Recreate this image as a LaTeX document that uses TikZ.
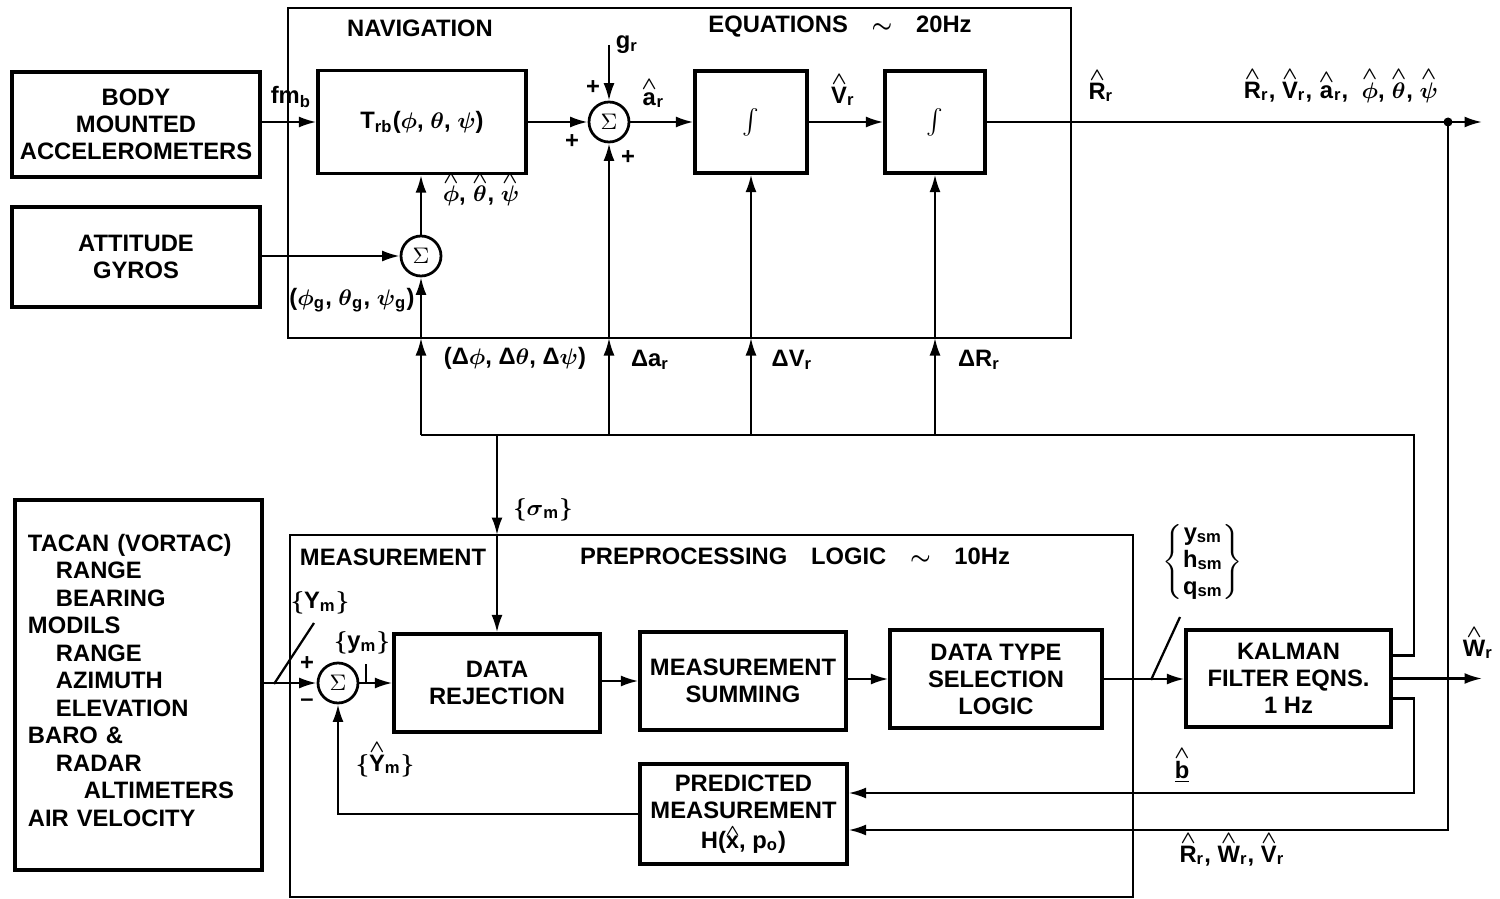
\documentclass[tikz,border=0pt]{standalone}
\usepackage{fontspec}
\setmainfont{Liberation Sans}
\usetikzlibrary{arrows.meta,calc}
\newcommand\hatx[1]{\leavevmode\vbox{\offinterlineskip\halign{\hfil##\hfil\cr{\fontsize{7}{7}\selectfont$\wedge$}\cr\noalign{\kern1pt}#1\cr}}}
\newcommand\hatsm[1]{\leavevmode\ooalign{#1\cr\hidewidth\raisebox{5.2pt}{\smash{\fontsize{6}{6}\selectfont$\wedge$}}\hidewidth\cr}}
\newcommand\sub[1]{\textsubscript{#1}}
\begin{document}
\begin{tikzpicture}[x=0.4pt,y=-0.4pt,
 every node/.style={font=\fontsize{9.5}{10.8}\selectfont\bfseries\boldmath},
 blk/.style={draw, line width=1.3pt, align=center, inner sep=0pt},
 sumc/.style={draw, circle, line width=1.1pt, minimum size=16pt, inner sep=0pt, font=\fontsize{9.5}{10.8}\selectfont},
 conn/.style={line width=0.9pt},
 arr/.style={conn, -{Latex[length=7pt,width=4.4pt]}},
 frame/.style={line width=1pt},
 lbl/.style={inner sep=0pt}
]
\useasboundingbox (0,0) rectangle (1500,899);
% ---------- navigation section ----------
\draw[frame] (288,8) rectangle (1071,338);
\node[blk, minimum width=99.2pt, minimum height=42pt] (bma) at (136,124.5) {BODY\\MOUNTED\\ACCELEROMETERS};
\node[blk, minimum width=99.2pt, minimum height=40pt] (gyro) at (136,257) {ATTITUDE\\GYROS};
\node[blk, minimum width=83.2pt, minimum height=41.2pt] (trb) at (422,122) {T\sub{rb}($\phi$, $\theta$, $\psi$)};
\node[sumc] (s1) at (609,122) {$\Sigma$};
\node[blk, minimum width=44.8pt, minimum height=40.8pt] (i1) at (751,122) {$\int$};
\node[blk, minimum width=40pt, minimum height=40.8pt] (i2) at (935,122) {$\int$};
\node[sumc] (s2) at (421,256) {$\Sigma$};
% ---------- measurement section ----------
\draw[frame] (290,535) rectangle (1133,897);
\node[blk, minimum width=98.8pt, minimum height=148pt, align=left, text width=88.4pt, inner xsep=5.2pt,
      font=\fontsize{9.5}{11}\selectfont\bfseries] (sens) at (138.5,685)
  {TACAN (VORTAC)\\\hspace*{11.2pt}RANGE\\\hspace*{11.2pt}BEARING\\MODILS\\\hspace*{11.2pt}RANGE\\\hspace*{11.2pt}AZIMUTH\\\hspace*{11.2pt}ELEVATION\\BARO \&\\\hspace*{11.2pt}RADAR\\\hspace*{22.4pt}ALTIMETERS\\AIR VELOCITY\\[-7pt]\mbox{}};
\node[sumc] (s3) at (338,683) {$\Sigma$};
\node[blk, minimum width=82.4pt, minimum height=39.2pt] (dr) at (497,683) {DATA\\REJECTION};
\node[blk, minimum width=82.4pt, minimum height=39.2pt] (ms) at (743,681) {MEASUREMENT\\SUMMING};
\node[blk, minimum width=84.8pt, minimum height=39.2pt] (dt) at (996,679) {DATA TYPE\\SELECTION\\LOGIC};
\node[blk, minimum width=82pt, minimum height=38.8pt] (kf) at (1288.5,678.5) {KALMAN\\FILTER EQNS.\\1 Hz};
\node[blk, minimum width=82.8pt, minimum height=40pt] (pm) at (743.5,814) {PREDICTED\\MEASUREMENT\\[1.2pt]H(\hatsm{x}, p\sub{o})};
% ---------- coordinates ----------
\coordinate (fb) at (1414,435);
\coordinate (navb) at (0,338);
\coordinate (measb) at (0,535);
\coordinate (dot) at (1448,122);
\coordinate (oute) at (1482,122);
\coordinate (woute) at (1482,678.5);
\coordinate (gr) at (609,45);
\coordinate (r830) at (0,830);
\coordinate (b793) at (0,793);
\coordinate (kfu) at ($(kf.east)+(0,-23)$);
\coordinate (kfl) at ($(kf.east)+(0,20)$);
\coordinate (sl1a) at (274,684);
\coordinate (sl1b) at (314,623);
\coordinate (sl2a) at (1151,680);
\coordinate (sl2b) at (1180,617);
\coordinate (tka) at (366,664);
\coordinate (tkb) at (366,683);
% ---------- connectors (top) ----------
\draw[arr] (bma.east |- trb) -- (trb.west);
\draw[arr] (trb) -- (s1);
\draw[arr] (s1) -- (i1);
\draw[arr] (i1) -- (i2);
\draw[arr] (i2.east) -- (oute);
\fill (dot) circle (1.8pt);
\draw[arr] (gr) -- (s1.north);
\draw[arr] (gyro.east |- s2) -- (s2);
\draw[arr] (s2) -- (s2 |- trb.south);
\draw[conn] (kfu) -| (fb) -- (fb -| s2);
\foreach \n/\a in {s2/south, s1/south, i1/south, i2/south}{
  \draw[arr] (fb -| \n.\a) -- (navb -| \n.\a);
  \draw[arr] (navb -| \n.\a) -- (\n.\a);
}
\draw[arr] (fb -| dr.north) -- (measb -| dr.north);
\draw[arr] (measb -| dr.north) -- (dr.north);
% ---------- connectors (bottom) ----------
\draw[arr] (dot) |- (pm.east |- r830);
\draw[arr] (kfl) -| (fb |- b793) -- (pm.east |- b793);
\draw[arr] (kf.east) -- (woute);
\draw[arr] (sens.east |- s3) -- (s3);
\draw[arr] (s3) -- (dr);
\draw[arr] (dr.east |- ms) -- (ms.west);
\draw[arr] (ms.east |- dt) -- (dt.west);
\draw[arr] (dt.east) -- (dt.east -| kf.west);
\draw[arr] (pm.west) -| (s3.south);
\draw[conn] (sl1a) -- (sl1b);
\draw[conn] (sl2a) -- (sl2b);
\draw[conn] (tka) -- (tkb);
% ---------- labels ----------
\node[lbl] at (291,97) {fm\sub{b}};
\node[lbl] at (420,28) {NAVIGATION};
\node[lbl] at (840,27) {EQUATIONS\quad$\sim$\quad 20Hz};
\node[lbl] at (627,45) {g\sub{r}};
\node[lbl] at (593,88) {+};
\node[lbl] at (572,142) {+};
\node[lbl] at (628,158) {+};
\node[lbl] at (653,94) {\hatx{a}\sub{r}};
\node[lbl] at (843,90) {\hatx{V}\sub{r}};
\node[lbl] at (1101,86) {\hatx{R}\sub{r}};
\node[lbl] at (1341,86) {\hatx{R}\sub{r}, \hatx{V}\sub{r}, \hatx{a}\sub{r}, \ \hatx{$\phi$}, \hatx{$\theta$}, \hatx{$\psi$}};
\node[lbl] at (481,190) {\hatx{$\phi$}, \hatx{$\theta$}, \hatx{$\psi$}};
\node[lbl] at (352,300) {($\phi$\sub{g}, $\theta$\sub{g}, $\psi$\sub{g})};
\node[lbl] at (515,358) {(Δ$\phi$, Δ$\theta$, Δ$\psi$)};
\node[lbl] at (650,360) {Δa\sub{r}};
\node[lbl] at (792,360) {ΔV\sub{r}};
\node[lbl] at (979,360) {ΔR\sub{r}};
\node[lbl] at (543,510) {$\{$$\sigma$\sub{m}$\}$};
\node[lbl] at (393,557) {MEASUREMENT};
\node[lbl] at (795,556) {PREPROCESSING\quad LOGIC\quad$\sim$\quad 10Hz};
\node[lbl] at (320,603) {$\{$Y\sub{m}$\}$};
\node[lbl] at (362,643) {$\{$y\sub{m}$\}$};
\node[lbl] at (307,664) {+};
\node[lbl] at (307,703) {--};
\node[lbl] at (385,760) {$\{$\hatx{Y}\sub{m}$\}$};
\node[lbl] at (1203,562) {$\left\{\begin{tabular}{@{}c@{}}y\sub{sm}\\h\sub{sm}\\q\sub{sm}\end{tabular}\right\}$};
\node[lbl] at (1478,643) {\hatx{W}\sub{r}};
\node[lbl] at (1182,766) {\hatx{\underline{b}}};
\node[lbl] at (1232,850) {\hatx{R}\sub{r}, \hatx{W}\sub{r}, \hatx{V}\sub{r}};
\end{tikzpicture}
\end{document}
